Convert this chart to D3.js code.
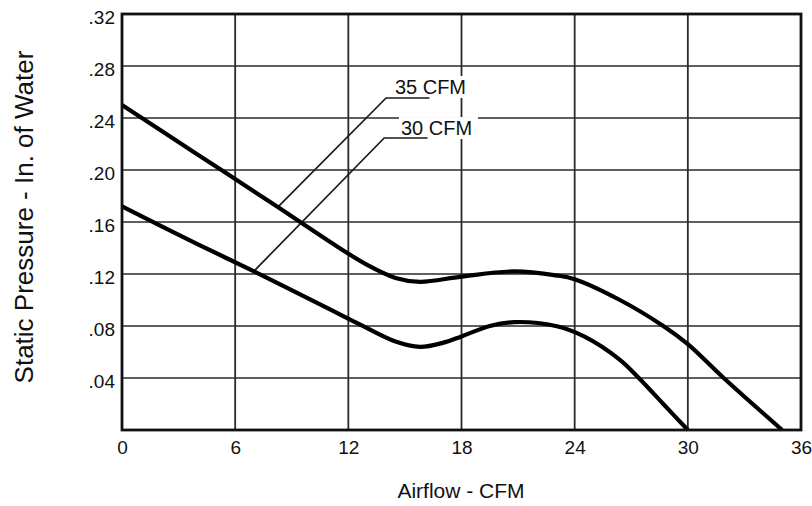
<!DOCTYPE html>
<html>
<head>
<meta charset="utf-8">
<script src="https://cdn.jsdelivr.net/npm/d3@7"></script>
<style>
  html, body { margin: 0; padding: 0; background: #fff; }
  svg { display: block; }
  text { font-family: "Liberation Sans", Arial, sans-serif; fill: #111; }
</style>
</head>
<body>
<svg id="chart" width="812" height="506"></svg>
<script>
// ---- data ----
const xTicks = [0, 6, 12, 18, 24, 30, 36];
const xTickLabels = ["0", "6", "12", "18", "24", "30", "36"];
const yTicks = [0.04, 0.08, 0.12, 0.16, 0.20, 0.24, 0.28, 0.32];
const yTickLabels = [".04", ".08", ".12", ".16", ".20", ".24", ".28", ".32"];

const cfm35X = [0, 4, 8, 11, 13, 14.5, 15.8, 18, 20.8, 23, 24, 26.4, 28.7, 30, 31.9, 35];
const cfm35Y = [0.25, 0.212, 0.174, 0.145, 0.127, 0.117, 0.114, 0.118, 0.122, 0.119, 0.116, 0.100, 0.080, 0.066, 0.040, 0.0];

const cfm30X = [0, 4, 7, 11, 12.5, 14.5, 15.8, 17, 18, 19.5, 20.8, 23, 24.5, 26.4, 27.4, 28.7, 30];
const cfm30Y = [0.172, 0.143, 0.122, 0.093, 0.082, 0.068, 0.064, 0.067, 0.072, 0.080, 0.083, 0.080, 0.072, 0.054, 0.040, 0.020, 0.0];

const seriesNames = ["35 CFM", "30 CFM"];
// leader line points: start (on curve), elbow, end
const leaderX = [[8.3, 14.0, 16.3], [7.05, 13.9, 16.2]];
const leaderY = [[0.172, 0.2554, 0.2554], [0.123, 0.2246, 0.2246]];
const labelX = [14.47, 14.79];
const labelY = [0.2585, 0.2269];

const xTitle = "Airflow - CFM";
const yTitle = "Static Pressure - In. of Water";

// ---- layout ----
const svg = d3.select("#chart");
const pLeft = 122, pRight = 801, pTop = 14, pBottom = 430;
const x = d3.scaleLinear().domain([0, 36]).range([pLeft, pRight]);
const y = d3.scaleLinear().domain([0, 0.32]).range([pBottom, pTop]);

// grid
const grid = svg.append("g");
grid.selectAll("line.v").data(xTicks.slice(1, -1)).enter().append("line")
  .attr("x1", d => x(d)).attr("x2", d => x(d))
  .attr("y1", pTop).attr("y2", pBottom)
  .attr("stroke", "#2a2a2a").attr("stroke-width", 1.8);
grid.selectAll("line.h").data(yTicks.slice(0, -1)).enter().append("line")
  .attr("x1", pLeft).attr("x2", pRight)
  .attr("y1", d => y(d)).attr("y2", d => y(d))
  .attr("stroke", "#2a2a2a").attr("stroke-width", 1.6);

// axes labels via d3 axes
const xAxis = d3.axisBottom(x).tickValues(xTicks).tickFormat((d, i) => xTickLabels[i]).tickSize(0).tickPadding(11);
const gx = svg.append("g").attr("transform", `translate(0,${pBottom})`).call(xAxis);
gx.select(".domain").remove();
gx.selectAll("text").style("font-size", "19px").style("font-family", "Liberation Sans, Arial, sans-serif").attr("fill", "#111");

const yAxis = d3.axisLeft(y).tickValues(yTicks).tickFormat((d, i) => yTickLabels[i]).tickSize(0).tickPadding(7);
const gy = svg.append("g").attr("transform", `translate(${pLeft},0)`).call(yAxis);
gy.select(".domain").remove();
gy.selectAll("text").style("font-size", "19px").style("font-family", "Liberation Sans, Arial, sans-serif")
  .attr("fill", "#111").attr("dy", "0.95em").attr("y", -9);

// label backgrounds (gaps in grid)
const labels = svg.append("g");
seriesNames.forEach((name, i) => {
  const t = labels.append("text")
    .attr("x", x(labelX[i])).attr("y", y(labelY[i]))
    .style("font-size", "20px").text(name);
  const bb = t.node().getBBox();
  labels.insert("rect", "text")
    .attr("x", bb.x - 2).attr("y", bb.y)
    .attr("width", bb.width + 8).attr("height", bb.height)
    .attr("fill", "#fff");
});

// leader lines
const leaderLine = d3.line().x(d => x(d[0])).y(d => y(d[1]));
leaderX.forEach((xs, i) => {
  svg.append("path")
    .attr("d", leaderLine(xs.map((v, j) => [v, leaderY[i][j]])))
    .attr("fill", "none").attr("stroke", "#1a1a1a").attr("stroke-width", 1.7);
});

// curves
const curveLine = d3.line().x(d => x(d[0])).y(d => y(d[1])).curve(d3.curveCatmullRom.alpha(0.5));
[[cfm35X, cfm35Y], [cfm30X, cfm30Y]].forEach(([xs, ys]) => {
  svg.append("path")
    .attr("d", curveLine(xs.map((v, j) => [v, ys[j]])))
    .attr("fill", "none").attr("stroke", "#000").attr("stroke-width", 4.2)
    .attr("stroke-linejoin", "round");
});

// border
svg.append("rect").attr("x", pLeft).attr("y", pTop)
  .attr("width", pRight - pLeft).attr("height", pBottom - pTop)
  .attr("fill", "none").attr("stroke", "#111").attr("stroke-width", 2.8);

// titles
svg.append("text").attr("x", 461).attr("y", 498).attr("text-anchor", "middle")
  .style("font-size", "21px").text(xTitle);
svg.append("text").attr("transform", `translate(33,217) rotate(-90)`).attr("text-anchor", "middle")
  .style("font-size", "26px").text(yTitle);
</script>
</body>
</html>
